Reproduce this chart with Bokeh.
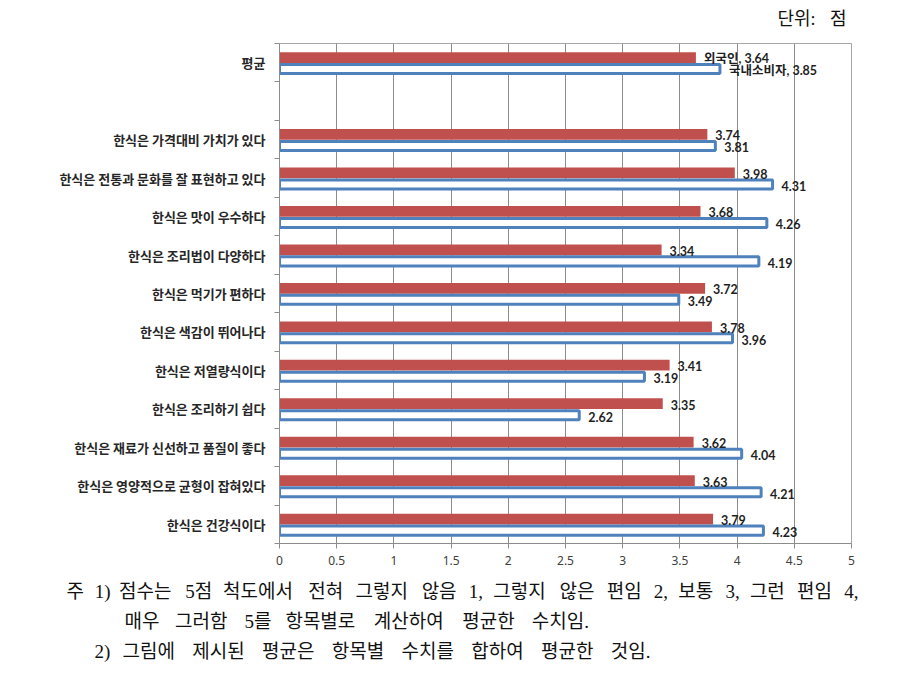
from bokeh.plotting import figure
from bokeh.models import (FixedTicker, ColumnDataSource, CustomJSTickFormatter, Range1d)
from bokeh.transform import dodge
from bokeh.core.properties import value
from bokeh.embed import file_html
from bokeh.resources import INLINE

# ---------------- data ----------------
categories = [
    "한식은 가격대비 가치가 있다",
    "한식은 전통과 문화를 잘 표현하고 있다",
    "한식은 맛이 우수하다",
    "한식은 조리법이 다양하다",
    "한식은 먹기가 편하다",
    "한식은 색감이 뛰어나다",
    "한식은 저열량식이다",
    "한식은 조리하기 쉽다",
    "한식은 재료가 신선하고 품질이 좋다",
    "한식은 영양적으로 균형이 잡혀있다",
    "한식은 건강식이다",
]
foreign = [3.74, 3.98, 3.68, 3.34, 3.72, 3.78, 3.41, 3.35, 3.62, 3.63, 3.79]
domestic = [3.81, 4.31, 4.26, 4.19, 3.49, 3.96, 3.19, 2.62, 4.04, 4.21, 4.23]
avg_label = "평균"
avg_foreign = 3.64
avg_domestic = 3.85
series_names = ["외국인", "국내소비자"]
x_ticks = [0, 0.5, 1, 1.5, 2, 2.5, 3, 3.5, 4, 4.5, 5]
unit_text = "단위: 점"
notes = [
    "주 1) 점수는 5점 척도에서 전혀 그렇지 않음 1, 그렇지 않은 편임 2, 보통 3, 그런 편임 4,",
    "매우 그러함 5를 항목별로 계산하여 평균한 수치임.",
    "2) 그림에 제시된 평균은 항목별 수치를 합하여 평균한 것임.",
]

# ---------------- layout (page pixels) ----------------
W = 893
HEAD_H = 40
MAIN_H = 535
FOOT_H = 108
FL, FR, FT, FB = 279, 851, 43, 543   # frame edges in page pixels
RED = "#C0504D"
BLUE = "#4F81BD"
GRID = "#8c8c8c"
SERIF = "Liberation Serif, Noto Sans CJK KR"

n_slots = len(categories) + 2
y_avg = n_slots - 0.5
ys = [n_slots - 0.5 - (i + 2) for i in range(len(categories))]

# ---------------- main chart ----------------
p = figure(width=W, height=MAIN_H, output_backend="svg", toolbar_location=None,
           x_range=Range1d(0, 5), y_range=Range1d(0, n_slots))
p.min_border_left = FL
p.min_border_right = W - FR
p.min_border_top = FT - HEAD_H
p.min_border_bottom = (HEAD_H + MAIN_H) - FB
p.background_fill_color = "white"
p.border_fill_color = "white"
p.outline_line_color = "#a6a6a6"
p.outline_line_width = 1

src = ColumnDataSource(dict(
    y=[y_avg] + ys,
    f=[avg_foreign] + foreign,
    d=[avg_domestic] + domestic,
    ft=[f"{series_names[0]}, {avg_foreign:.2f}"] + [f"{v:.2f}" for v in foreign],
    dt=[f"{series_names[1]}, {avg_domestic:.2f}"] + [f"{v:.2f}" for v in domestic],
))

p.hbar(y=dodge("y", 0.135, range=p.y_range), left=0, right="f", height=0.28,
       source=src, fill_color=RED, line_color=None)
p.hbar(y=dodge("y", -0.165, range=p.y_range), left=0, right="d", height=0.235,
       source=src, fill_color="white", line_color=BLUE, line_width=3)

lab_font = value("Lato, Noto Sans CJK KR")
p.text(x="f", y=dodge("y", 0.11, range=p.y_range), text="ft", source=src, x_offset=8,
       text_font=lab_font, text_font_style="bold", text_font_size="12.5px",
       text_color="#1f1f1f", text_baseline="middle", text_align="left")
p.text(x="d", y=dodge("y", -0.2, range=p.y_range), text="dt", source=src, x_offset=9,
       text_font=lab_font, text_font_style="bold", text_font_size="12.5px",
       text_color="#1f1f1f", text_baseline="middle", text_align="left")

# y axis
p.yaxis.ticker = FixedTicker(ticks=[y_avg] + ys, minor_ticks=list(range(n_slots + 1)))
overrides = {y_avg: avg_label}
for y, c in zip(ys, categories):
    overrides[y] = c
p.yaxis.major_label_overrides = overrides
p.yaxis.major_tick_out = 0
p.yaxis.major_tick_in = 0
p.yaxis.minor_tick_out = 5
p.yaxis.minor_tick_in = 0
p.yaxis.minor_tick_line_color = GRID
p.yaxis.axis_line_color = GRID
p.yaxis.major_label_standoff = 9
p.yaxis.major_label_text_font = "Noto Sans CJK KR"
p.yaxis.major_label_text_font_style = "bold"
p.yaxis.major_label_text_font_size = "13px"
p.yaxis.major_label_text_color = "#262626"

# x axis
p.xaxis.ticker = FixedTicker(ticks=x_ticks)
p.xaxis.formatter = CustomJSTickFormatter(code="return String(Math.round(tick*10)/10);")
p.xaxis.major_tick_out = 5
p.xaxis.major_tick_in = 0
p.xaxis.minor_tick_line_color = None
p.xaxis.major_tick_line_color = GRID
p.xaxis.axis_line_color = GRID
p.xaxis.major_label_standoff = 7
p.xaxis.major_label_text_font = "Noto Sans"
p.xaxis.major_label_text_font_size = "12px"
p.xaxis.major_label_text_color = "#404040"

p.xgrid.ticker = FixedTicker(ticks=x_ticks)
p.xgrid.grid_line_color = GRID
p.ygrid.grid_line_color = None


# ---------------- header & footer (pixel-space figures) ----------------
def blank(h, top):
    f = figure(width=W, height=h, output_backend="svg", toolbar_location=None,
               x_range=Range1d(0, W), y_range=Range1d(top + h, top),
               x_axis_type=None, y_axis_type=None)
    f.min_border = 0
    f.outline_line_color = None
    f.grid.grid_line_color = None
    f.background_fill_color = "white"
    f.border_fill_color = "white"
    return f


head = blank(HEAD_H, 0)
unit_words = unit_text.split(" ")
head.text(x=[815, 846], y=[18, 18], text=unit_words, text_font=value(SERIF),
          text_font_size="18px", text_color="#111111", text_align="right",
          text_baseline="middle")


def est_width(word, fs):
    w = 0.0
    for ch in word:
        if "\uac00" <= ch <= "\ud7a3":
            w += fs
        elif ch.isdigit():
            w += 0.5 * fs
        elif ch in ").,(":
            w += 0.3 * fs
        else:
            w += 0.5 * fs
    return w


foot_top = HEAD_H + MAIN_H
foot = blank(FOOT_H, foot_top)
FS = 19
line_specs = [(66, 859, 591), (124, 594, 621), (94, 654, 651)]
wx, wy, wt = [], [], []
for line, (x0, x1, yc) in zip(notes, line_specs):
    words = line.split(" ")
    widths = [est_width(w_, FS) for w_ in words]
    gap = (x1 - x0 - sum(widths)) / max(len(words) - 1, 1)
    cx = x0
    for w_, wd in zip(words, widths):
        wx.append(cx)
        wy.append(yc)
        wt.append(w_)
        cx += wd + gap
foot.text(x=wx, y=wy, text=wt, text_font=value(SERIF), text_font_size=f"{FS}px",
          text_color="#111111", text_align="left", text_baseline="middle")

open("out.html", "w").write(file_html([head, p, foot], INLINE))
